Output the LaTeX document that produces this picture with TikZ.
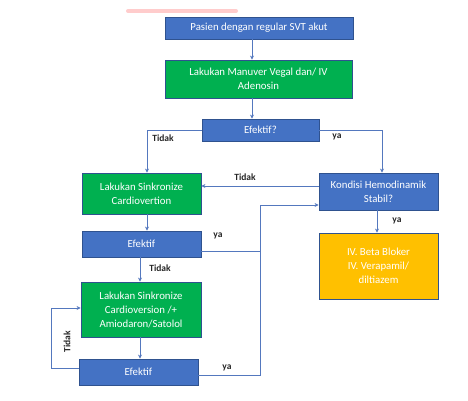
\documentclass[tikz,border=0pt]{standalone}
\usepackage{fontspec}
\setmainfont{Carlito}
\usepackage{tikz}
\usetikzlibrary{positioning,arrows.meta}
\usepackage{xcolor}
\definecolor{boxblue}{RGB}{68,114,196}
\definecolor{boxgreen}{RGB}{0,176,80}
\definecolor{boxgold}{RGB}{255,192,0}
\definecolor{edgeblue}{RGB}{47,82,143}
\definecolor{lineblue}{RGB}{84,120,190}

\begin{document}
\begin{tikzpicture}[x=1pt,y=-1pt,
  box/.style={draw=edgeblue,line width=0.8pt,text=white,align=center,inner sep=1pt,font=\fontsize{10.8}{14}\selectfont},
  bluebox/.style={box,fill=boxblue},
  greenbox/.style={box,fill=boxgreen},
  goldbox/.style={box,fill=boxgold},
  arr/.style={draw=lineblue,line width=0.9pt,-{Stealth[length=4pt,width=4pt]}},
  link/.style={draw=lineblue,line width=0.9pt},
  lbl/.style={font=\fontsize{9.5}{11}\selectfont\bfseries,text=black!85,inner sep=0.5pt}]
\useasboundingbox (0,0) rectangle (468,401);

%Shape: smear at top
\draw [red!25,line width=4pt,line cap=round,opacity=0.8] (128,11) -- (236,11);

%Shape: Rectangle
\node [bluebox,minimum width=188,minimum height=22] (pasien) at (259,28) {Pasien dengan regular SVT akut};
%Shape: Rectangle
\node [greenbox,minimum width=187,minimum height=38] (manuver) at (258.5,79) {Lakukan Manuver Vegal dan/ IV\\Adenosin};
%Shape: Rectangle
\node [bluebox,minimum width=117,minimum height=22] (efektifA) at (260.5,130) {Efektif?};
%Shape: Rectangle
\node [greenbox,minimum width=119,minimum height=41] (sinkA) at (141.5,193.5) {Lakukan Sinkronize\\Cardiovertion};
%Shape: Rectangle
\node [bluebox,minimum width=119,minimum height=37] (kondisi) at (378.5,191.5) {Kondisi Hemodinamik\\Stabil?};
%Shape: Rectangle
\node [goldbox,minimum width=119,minimum height=66] (obat) at (378.5,266) {IV. Beta Bloker\\IV. Verapamil/\\diltiazem};
%Shape: Rectangle
\node [bluebox,minimum width=119,minimum height=26] (efektifB) at (141.5,244) {Efektif};
%Shape: Rectangle
\node [greenbox,minimum width=120,minimum height=55] (sinkB) at (141,309.5) {Lakukan Sinkronize\\Cardioversion /+\\Amiodaron/Satolol};
%Shape: Rectangle
\node [bluebox,minimum width=119,minimum height=26] (efektifC) at (138.5,372) {Efektif};

% guide coordinates
\coordinate (midx) at (252,0);
\coordinate (leftx) at (147,0);
\coordinate (lowx) at (140,0);
\coordinate (rightx) at (382,0);
\coordinate (returnx) at (260,0);
\coordinate (loopx) at (51,0);
\coordinate (kondisiIn) at ([yshift=-13.5pt]kondisi.west);

%Straight Lines
\draw [arr] (pasien.south -| midx) -- (manuver.north -| midx);
\draw [arr] (manuver.south -| midx) -- (efektifA.north -| midx);
\draw [arr] (efektifA.west) -| (sinkA.north -| leftx);
\draw [arr] (efektifA.east) -| (kondisi.north -| rightx);
\draw [arr] ([yshift=5.5pt]kondisi.west) -- ([yshift=5.5pt]kondisi.west -| sinkA.east);
\draw [arr] (kondisi.south -| 377,0) -- (obat.north -| 377,0);
\draw [arr] (sinkA.south -| leftx) -- (efektifB.north -| leftx);
\draw [arr] (efektifB.south -| lowx) -- (sinkB.north -| lowx);
\draw [arr] (sinkB.south -| lowx) -- (efektifC.north -| lowx);
\draw [arr] ([yshift=4pt]efektifC.west) -| ([yshift=1.5pt]sinkB.west -| loopx) -- ([yshift=1.5pt]sinkB.west);
\draw [link] ([yshift=-7pt]efektifB.east) -- ([yshift=-7pt]efektifB.east -| returnx);
\draw [arr] ([yshift=-3pt]efektifC.east) -| (kondisiIn -| returnx) -- (kondisiIn);

% Text Node
\node [lbl] (tA) at (163,138) {Tidak};
% Text Node
\node [lbl] (yA) at (337,137) {ya};
% Text Node
\node [lbl] (tB) at (245,177) {Tidak};
% Text Node
\node [lbl] (yB) at (397,221) {ya};
% Text Node
\node [lbl] (yC) at (218,236) {ya};
% Text Node
\node [lbl] (tC) at (160,268) {Tidak};
% Text Node
\node [lbl,rotate=90] (tD) at (67,342) {Tidak};
% Text Node
\node [lbl] (yD) at (227,368) {ya};

\end{tikzpicture}
\end{document}
